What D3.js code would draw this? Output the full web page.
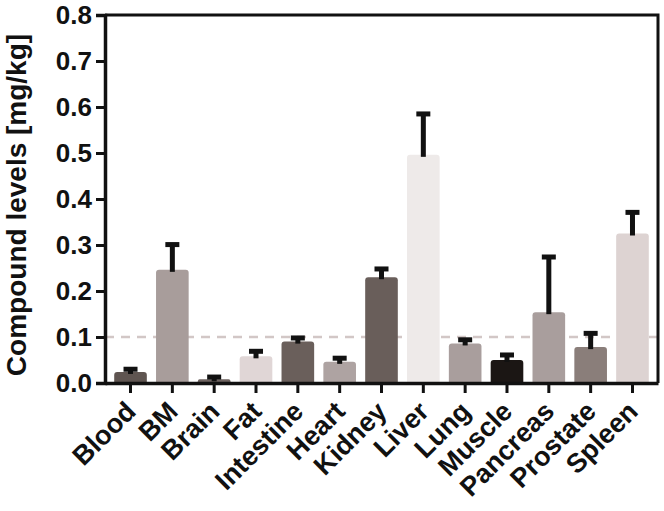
<!DOCTYPE html>
<html>
<head>
<meta charset="utf-8">
<script src="https://cdn.jsdelivr.net/npm/d3@7"></script>
<style>
  body { margin: 0; background: #fff; }
  text { font-family: "Liberation Sans", Arial, sans-serif; font-weight: bold; fill: #111; }
</style>
</head>
<body>
<svg id="chart"></svg>
<script>
// Tissue categories and values
const tissues = ["Blood", "BM", "Brain", "Fat", "Intestine", "Heart", "Kidney", "Liver", "Lung", "Muscle", "Pancreas", "Prostate", "Spleen"];
const means = [0.024, 0.246, 0.008, 0.058, 0.090, 0.046, 0.230, 0.496, 0.086, 0.050, 0.154, 0.078, 0.325];
const upper = [0.031, 0.302, 0.014, 0.070, 0.099, 0.055, 0.249, 0.586, 0.095, 0.062, 0.275, 0.109, 0.372];
const barColors = ["#5f5551", "#a89d9b", "#6e6360", "#e0d6d6", "#6a5f5b", "#aea3a2", "#695e5a", "#eeeae9", "#a99e9d", "#1b1614", "#a99e9d", "#8a7e7a", "#ddd3d2"];
const yTicks = [0.0, 0.1, 0.2, 0.3, 0.4, 0.5, 0.6, 0.7, 0.8];
const threshold = 0.1;

const margin = {top: 15, right: 6, bottom: 128, left: 105},
    width = 664 - margin.left - margin.right,
    height = 511 - margin.top - margin.bottom;

const svg = d3.select("#chart")
    .attr("width", 664)
    .attr("height", 511)
  .append("g")
    .attr("transform", `translate(${margin.left},${margin.top})`);

const x = d3.scaleBand()
    .domain(tissues)
    .range([0, width])
    .padding(0.22);

const y = d3.scaleLinear()
    .domain([0, 0.8])
    .range([height, 0]);

// dashed threshold line, behind the bars
svg.append("line")
    .attr("x1", 0)
    .attr("x2", width)
    .attr("y1", y(threshold))
    .attr("y2", y(threshold))
    .attr("stroke", "#d2c7c6")
    .attr("stroke-width", 2.5)
    .attr("stroke-dasharray", "9,7");

// bars
svg.selectAll(".bar")
    .data(tissues)
    .enter()
    .append("path")
    .attr("class", "bar")
    .attr("fill", (d, i) => barColors[i])
    .attr("d", (d, i) => {
        const x0 = x(d), w = x.bandwidth(), y0 = y(means[i]), r = Math.min(3, (height - y0) / 2);
        return `M${x0},${height}V${y0 + r}Q${x0},${y0} ${x0 + r},${y0}H${x0 + w - r}Q${x0 + w},${y0} ${x0 + w},${y0 + r}V${height}Z`;
    });

// error bars (upper only)
const err = svg.selectAll(".err")
    .data(tissues)
    .enter()
    .append("g")
    .attr("class", "err");

err.append("rect")
    .attr("x", d => x(d) + x.bandwidth() / 2 - 2.5)
    .attr("y", (d, i) => y(upper[i]))
    .attr("width", 5)
    .attr("height", (d, i) => y(means[i]) - y(upper[i]) + 2)
    .attr("fill", "#111");

err.append("rect")
    .attr("x", d => x(d) + x.bandwidth() / 2 - 7)
    .attr("y", (d, i) => y(upper[i]) - 2)
    .attr("width", 14)
    .attr("height", 5)
    .attr("fill", "#111");

// frame (top and right)
svg.append("path")
    .attr("d", `M0,0H${width}V${height}`)
    .attr("fill", "none")
    .attr("stroke", "#111")
    .attr("stroke-width", 3);

// y axis
const yAxis = svg.append("g")
    .call(d3.axisLeft(y).tickValues(yTicks).tickFormat(d3.format(".1f")).tickSize(9).tickPadding(4));
yAxis.select(".domain").attr("stroke", "#111").attr("stroke-width", 3.5);
yAxis.selectAll(".tick line").attr("stroke", "#111").attr("stroke-width", 3);
yAxis.selectAll(".tick text").style("font-size", "26px").attr("fill", "#111");

// x axis
const xAxis = svg.append("g")
    .attr("transform", `translate(0,${height})`)
    .call(d3.axisBottom(x).tickSize(10).tickSizeOuter(0));
xAxis.select(".domain").attr("stroke", "#111").attr("stroke-width", 3.5);
xAxis.selectAll(".tick line").attr("stroke", "#111").attr("stroke-width", 3);
xAxis.selectAll(".tick text")
    .style("font-size", "27px")
    .attr("fill", "#111")
    .attr("text-anchor", "end")
    .attr("y", 0)
    .attr("dy", 0)
    .attr("transform", "translate(7,30) rotate(-45)");

// y axis title
svg.append("text")
    .attr("transform", `translate(${-margin.left + 26},${height / 2 + 6}) rotate(-90)`)
    .attr("text-anchor", "middle")
    .style("font-size", "28px")
    .text("Compound levels [mg/kg]");
</script>
</body>
</html>
